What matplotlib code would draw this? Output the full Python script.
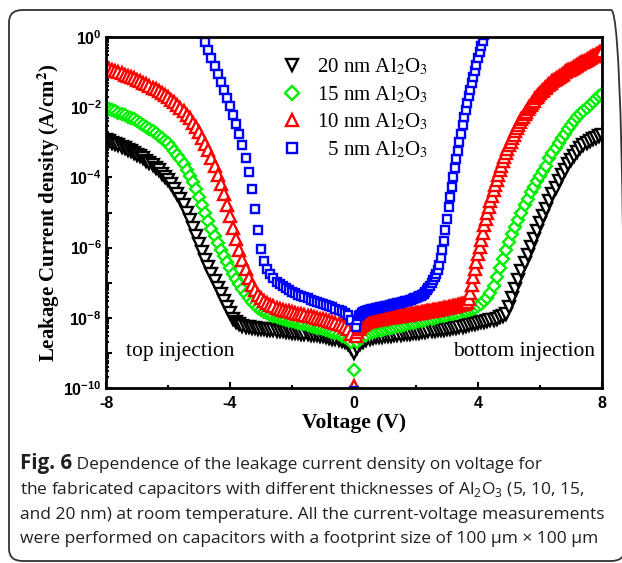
import matplotlib

matplotlib.use("Agg")
import matplotlib.pyplot as plt
import numpy as np
from matplotlib.font_manager import FontProperties
from matplotlib.patches import FancyBboxPatch
from matplotlib.ticker import FixedLocator, FuncFormatter, LogLocator, NullFormatter


def sweep(start, stop, step):
    return np.round(np.arange(start, stop + step / 2, step), 2)


# voltage grids of the sweeps
VOLTAGE_FULL = sweep(-8.0, 8.0, 0.1)
VOLTAGE_NEG = sweep(-8.0, 0.0, 0.1)
VOLTAGE_POS_FINE = sweep(0.05, 8.0, 0.05)
VOLTAGE_NEG_5NM = sweep(-4.9, 0.0, 0.1)
VOLTAGE_POS_5NM = sweep(0.05, 4.2, 0.05)

# log10 of leakage current density (A/cm2)
LOG_J_20NM = [
    -2.93, -2.97, -3.01, -3.05, -3.09, -3.13, -3.17, -3.21, -3.26, -3.30,
    -3.35, -3.40, -3.46, -3.52, -3.58, -3.65, -3.72, -3.80, -3.89, -3.98,
    -4.08, -4.19, -4.32, -4.46, -4.61, -4.80, -5.00, -5.21, -5.43, -5.66,
    -5.90, -6.13, -6.35, -6.56, -6.76, -6.95, -7.14, -7.33, -7.52, -7.70,
    -7.87, -8.02, -8.12, -8.18, -8.22, -8.25, -8.27, -8.29, -8.30, -8.31,
    -8.32, -8.33, -8.34, -8.35, -8.36, -8.37, -8.38, -8.39, -8.40, -8.41,
    -8.42, -8.43, -8.44, -8.45, -8.46, -8.47, -8.48, -8.49, -8.50, -8.52,
    -8.53, -8.55, -8.57, -8.59, -8.61, -8.63, -8.66, -8.70, -8.76, -8.86,
    -9.00, -8.85, -8.74, -8.68, -8.63, -8.60, -8.58, -8.56, -8.55, -8.54,
    -8.53, -8.52, -8.51, -8.50, -8.49, -8.48, -8.47, -8.46, -8.45, -8.44,
    -8.43, -8.42, -8.41, -8.40, -8.39, -8.38, -8.37, -8.36, -8.35, -8.34,
    -8.33, -8.32, -8.30, -8.29, -8.27, -8.25, -8.23, -8.21, -8.19, -8.17,
    -8.15, -8.13, -8.11, -8.09, -8.07, -8.05, -8.02, -7.99, -7.95, -7.89,
    -7.70, -7.45, -7.18, -6.92, -6.67, -6.43, -6.20, -5.97, -5.75, -5.53,
    -5.31, -5.10, -4.89, -4.68, -4.48, -4.29, -4.11, -3.94, -3.78, -3.63,
    -3.50, -3.38, -3.27, -3.17, -3.09, -3.02, -2.96, -2.91, -2.87, -2.83,
    -2.80,
]
LOG_J_15NM = [
    -2.02, -2.05, -2.09, -2.12, -2.16, -2.20, -2.23, -2.27, -2.31, -2.35,
    -2.40, -2.45, -2.50, -2.55, -2.61, -2.67, -2.74, -2.81, -2.88, -2.95,
    -3.03, -3.13, -3.24, -3.36, -3.49, -3.63, -3.78, -3.95, -4.13, -4.33,
    -4.55, -4.78, -5.01, -5.24, -5.46, -5.67, -5.87, -6.06, -6.24, -6.42,
    -6.59, -6.75, -6.90, -7.05, -7.19, -7.32, -7.44, -7.55, -7.64, -7.72,
    -7.78, -7.83, -7.87, -7.91, -7.94, -7.97, -8.00, -8.03, -8.05, -8.08,
    -8.10, -8.12, -8.15, -8.17, -8.19, -8.21, -8.24, -8.26, -8.28, -8.30,
    -8.33, -8.35, -8.38, -8.41, -8.44, -8.47, -8.51, -8.55, -8.60, -8.68,
    -9.49, -8.70, -8.60, -8.53, -8.48, -8.44, -8.41, -8.38, -8.36, -8.34,
    -8.32, -8.30, -8.28, -8.26, -8.24, -8.22, -8.20, -8.18, -8.16, -8.14,
    -8.12, -8.10, -8.08, -8.06, -8.04, -8.02, -8.00, -7.98, -7.96, -7.94,
    -7.92, -7.90, -7.88, -7.86, -7.84, -7.82, -7.80, -7.78, -7.75, -7.71,
    -7.66, -7.60, -7.53, -7.43, -7.29, -7.09, -6.85, -6.59, -6.33, -6.08,
    -5.84, -5.62, -5.41, -5.20, -5.00, -4.80, -4.61, -4.43, -4.26, -4.10,
    -3.95, -3.81, -3.67, -3.46, -3.30, -3.15, -3.01, -2.88, -2.75, -2.63,
    -2.51, -2.40, -2.29, -2.19, -2.10, -2.01, -1.93, -1.85, -1.77, -1.69,
    -1.62,
]
LOG_J_10NM_NEG = [
    -0.88, -0.91, -0.94, -0.97, -1.00, -1.03, -1.07, -1.10, -1.14, -1.18,
    -1.22, -1.26, -1.30, -1.34, -1.39, -1.44, -1.49, -1.54, -1.60, -1.66,
    -1.72, -1.79, -1.86, -1.94, -2.02, -2.11, -2.21, -2.32, -2.44, -2.57,
    -2.71, -2.87, -3.04, -3.23, -3.44, -3.67, -3.92, -4.19, -4.48, -4.79,
    -5.11, -5.43, -5.75, -6.06, -6.35, -6.62, -6.86, -7.06, -7.22, -7.35,
    -7.45, -7.52, -7.58, -7.63, -7.67, -7.71, -7.74, -7.77, -7.80, -7.82,
    -7.84, -7.86, -7.88, -7.90, -7.92, -7.94, -7.96, -7.98, -8.00, -8.02,
    -8.04, -8.06, -8.08, -8.11, -8.14, -8.17, -8.21, -8.26, -8.33, -8.45,
    -9.93,
]
LOG_J_10NM_POS = [
    -8.52, -8.40, -8.32, -8.26, -8.21, -8.17, -8.14, -8.12, -8.10, -8.09,
    -8.08, -8.07, -8.06, -8.05, -8.04, -8.03, -8.03, -8.02, -8.01, -8.01,
    -8.00, -7.99, -7.99, -7.98, -7.97, -7.97, -7.96, -7.95, -7.95, -7.94,
    -7.93, -7.93, -7.92, -7.91, -7.91, -7.90, -7.89, -7.89, -7.88, -7.87,
    -7.87, -7.86, -7.85, -7.84, -7.84, -7.83, -7.82, -7.81, -7.81, -7.80,
    -7.79, -7.78, -7.77, -7.77, -7.76, -7.75, -7.74, -7.73, -7.72, -7.71,
    -7.70, -7.69, -7.68, -7.67, -7.66, -7.65, -7.64, -7.63, -7.62, -7.61,
    -7.60, -7.58, -7.55, -7.46, -7.28, -7.06, -6.84, -6.62, -6.40, -6.18,
    -5.97, -5.77, -5.57, -5.37, -5.19, -5.01, -4.84, -4.68, -4.52, -4.37,
    -4.22, -4.08, -3.94, -3.80, -3.67, -3.54, -3.42, -3.30, -3.19, -3.08,
    -2.98, -2.88, -2.78, -2.69, -2.60, -2.51, -2.43, -2.35, -2.27, -2.20,
    -2.13, -2.06, -1.99, -1.93, -1.87, -1.81, -1.75, -1.70, -1.65, -1.60,
    -1.55, -1.50, -1.46, -1.42, -1.38, -1.34, -1.30, -1.26, -1.23, -1.19,
    -1.16, -1.13, -1.10, -1.07, -1.04, -1.01, -0.98, -0.95, -0.93, -0.90,
    -0.87, -0.85, -0.82, -0.80, -0.77, -0.75, -0.72, -0.70, -0.67, -0.65,
    -0.62, -0.60, -0.58, -0.55, -0.53, -0.51, -0.48, -0.46, -0.44, -0.41,
]
LOG_J_5NM_NEG = [
    0.10, -0.13, -0.36, -0.59, -0.82, -1.05, -1.28, -1.51, -1.74, -1.97,
    -2.21, -2.47, -2.76, -3.08, -3.44, -3.86, -4.34, -4.89, -5.50, -6.05,
    -6.38, -6.60, -6.76, -6.88, -6.97, -7.04, -7.10, -7.16, -7.21, -7.26,
    -7.30, -7.34, -7.38, -7.42, -7.45, -7.49, -7.52, -7.55, -7.58, -7.61,
    -7.64, -7.67, -7.70, -7.74, -7.78, -7.82, -7.87, -7.93, -8.05, -10.08,
]
LOG_J_5NM_POS = [
    -8.25, -8.05, -7.96, -7.91, -7.87, -7.84, -7.82, -7.80, -7.79, -7.78,
    -7.76, -7.75, -7.74, -7.73, -7.72, -7.71, -7.70, -7.69, -7.68, -7.67,
    -7.66, -7.65, -7.64, -7.63, -7.62, -7.61, -7.60, -7.59, -7.58, -7.57,
    -7.56, -7.55, -7.53, -7.52, -7.51, -7.50, -7.48, -7.47, -7.45, -7.43,
    -7.41, -7.39, -7.37, -7.34, -7.31, -7.27, -7.22, -7.16, -7.09, -7.01,
    -6.92, -6.83, -6.74, -6.64, -6.50, -6.30, -6.07, -5.80, -5.50, -5.18,
    -4.85, -4.55, -4.27, -4.00, -3.74, -3.49, -3.24, -2.99, -2.75, -2.51,
    -2.29, -2.08, -1.88, -1.69, -1.50, -1.32, -1.14, -0.96, -0.79, -0.61,
    -0.44, -0.27, -0.10, 0.07,
]

LABELS = ["20 nm", "15 nm", "10 nm", "  5 nm"]
X_TICKS = [-8, -4, 0, 4, 8]
X_MINOR = [-6, -2, 2, 6]

CAPTION_BOLD = "Fig. 6"
CAPTION_LINES = [
    " Dependence of the leakage current density on voltage for",
    "the fabricated capacitors with different thicknesses of Al$_2$O$_3$ (5, 10, 15,",
    "and 20 nm) at room temperature. All the current-voltage measurements",
    "were performed on capacitors with a footprint size of 100 \u03bcm \u00d7 100 \u03bcm",
]

plt.rcParams["mathtext.fontset"] = "custom"
plt.rcParams["mathtext.rm"] = "Open Sans"
plt.rcParams["mathtext.bf"] = "Liberation Sans:bold"

SERIF = "Liberation Serif"
SANS = "Liberation Sans"


def decade_label(value, pos):
    exponent = int(round(np.log10(value)))
    if exponent % 2:
        return ""
    return r"$\mathbf{10^{%d}}$" % exponent


def main() -> None:
    fig = plt.figure(figsize=(6.22, 5.63), dpi=100)
    ax = fig.add_axes([106 / 622, 175 / 563, 496 / 622, 351 / 563])

    series = [
        (VOLTAGE_FULL, LOG_J_20NM, "v", "#000000", 8.0, LABELS[0]),
        (VOLTAGE_FULL, LOG_J_15NM, "D", "#00ee00", 6.4, LABELS[1]),
        (np.concatenate([VOLTAGE_NEG, VOLTAGE_POS_FINE]),
         LOG_J_10NM_NEG + LOG_J_10NM_POS, "^", "#ff0000", 8.0, LABELS[2]),
        (np.concatenate([VOLTAGE_NEG_5NM, VOLTAGE_POS_5NM]),
         LOG_J_5NM_NEG + LOG_J_5NM_POS, "s", "#0000ff", 6.2, LABELS[3]),
    ]
    for volts, log_j, marker, color, size, label in series:
        ax.plot(
            volts,
            10.0 ** np.asarray(log_j),
            linestyle="none",
            marker=marker,
            markersize=size,
            markerfacecolor="white",
            markeredgecolor=color,
            markeredgewidth=1.7,
            label=label + " Al$_2$O$_3$",
        )

    ax.set_yscale("log")
    ax.set_xlim(-8, 8)
    ax.set_ylim(1e-10, 1)

    ax.xaxis.set_major_locator(FixedLocator(X_TICKS))
    ax.xaxis.set_minor_locator(FixedLocator(X_MINOR))
    ax.xaxis.set_major_formatter(FuncFormatter(lambda v, p: "%d" % v))
    ax.yaxis.set_major_locator(LogLocator(base=10, numticks=20))
    ax.yaxis.set_minor_locator(LogLocator(base=10, subs=np.arange(2, 10), numticks=20))
    ax.yaxis.set_major_formatter(FuncFormatter(decade_label))
    ax.yaxis.set_minor_formatter(NullFormatter())
    ax.tick_params(which="both", direction="in", top=False, right=False, width=1.5)
    ax.tick_params(which="major", length=4.5)
    ax.tick_params(which="minor", length=2.5)
    ax.tick_params(axis="x", pad=6, labelsize=11.5)
    ax.tick_params(axis="y", pad=3, labelsize=11.5)
    for lab in ax.get_xticklabels():
        lab.set_fontfamily(SANS)
        lab.set_fontweight("bold")
    for spine in ax.spines.values():
        spine.set_linewidth(2.0)

    ax.set_xlabel("Voltage (V)", fontfamily=SERIF, fontweight="bold", fontsize=15.5)
    ax.xaxis.set_label_coords(0.5, -0.072)
    ax.set_ylabel(
        r"Leakage Current density (A/cm$^{\mathbf{2}}$)",
        fontproperties=FontProperties(family=SERIF, weight="bold", size=15,
                                      math_fontfamily="stix"),
    )
    ax.yaxis.set_label_coords(-0.089, 0.5)

    ax.legend(
        loc="upper left",
        bbox_to_anchor=(0.354, 0.944),
        frameon=False,
        numpoints=1,
        handlelength=1.0,
        handletextpad=0.7,
        labelspacing=0.33,
        borderpad=0,
        borderaxespad=0,
        markerscale=1.1,
        prop=FontProperties(family=SERIF, size=15, math_fontfamily="stix"),
    )

    ax.text(0.04, 0.103, "top injection", transform=ax.transAxes,
            fontfamily=SERIF, fontsize=15.5, ha="left", va="center")
    ax.text(0.986, 0.103, "bottom injection", transform=ax.transAxes,
            fontfamily=SERIF, fontsize=15.5, ha="right", va="center")

    # caption under the chart
    caption_color = "#231f20"
    x0 = 20 / 622
    baselines = [469, 494, 519, 543]
    bold = fig.text(x0, 1 - baselines[0] / 563, CAPTION_BOLD, fontfamily="Open Sans",
                    fontweight="bold", fontsize=14.8, color=caption_color, va="baseline")
    renderer = fig.canvas.get_renderer()
    bold_end = bold.get_window_extent(renderer).x1 / fig.bbox.width
    for i, line in enumerate(CAPTION_LINES):
        fig.text(bold_end if i == 0 else x0, 1 - baselines[i] / 563, line,
                 fontfamily="Open Sans", fontsize=12.5, color=caption_color,
                 va="baseline")

    frame = FancyBboxPatch(
        (9 / 622, 2 / 563), 0.99, 551 / 563,
        boxstyle="round,pad=0,rounding_size=0.022",
        transform=fig.transFigure, fill=False, edgecolor="#333333", linewidth=1.3,
    )
    fig.add_artist(frame)

    fig.savefig("out.png", dpi=100)
    plt.close(fig)


if __name__ == "__main__":
    main()
